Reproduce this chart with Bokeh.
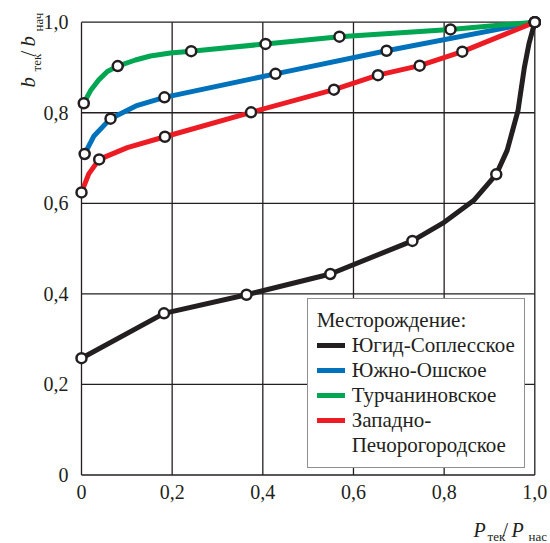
import math
from bokeh.plotting import figure
from bokeh.models import Range1d, FixedTicker, Legend, LegendItem, Label
from bokeh.embed import file_html
from bokeh.resources import INLINE

# ---------------- data ----------------
tick_values = [0.0, 0.2, 0.4, 0.6, 0.8, 1.0]
tick_labels = ["0", "0,2", "0,4", "0,6", "0,8", "1,0"]

legend_title = "Месторождение:"
series_names = ["Югид-Соплесское", "Южно-Ошское", "Турчаниновское", "Западно-Печорогородское"]
series_colors = ["#231f20", "#0072bc", "#00a651", "#ed1c24"]

# measured points (markers)
black_x = [0.0, 0.182, 0.364, 0.549, 0.730, 0.915, 1.0]
black_y = [0.258, 0.357, 0.398, 0.444, 0.517, 0.664, 1.0]
blue_x = [0.007, 0.064, 0.183, 0.428, 0.673, 1.0]
blue_y = [0.709, 0.787, 0.834, 0.886, 0.937, 1.0]
green_x = [0.005, 0.080, 0.242, 0.406, 0.569, 0.814, 1.0]
green_y = [0.821, 0.903, 0.936, 0.952, 0.968, 0.984, 1.0]
red_x = [0.0, 0.039, 0.184, 0.374, 0.557, 0.654, 0.746, 0.840, 1.0]
red_y = [0.624, 0.697, 0.747, 0.801, 0.851, 0.883, 0.904, 0.935, 1.0]

# drawn curves (markers plus points)
black_curve_x = [0.0, 0.182, 0.364, 0.549, 0.730, 0.800, 0.865, 0.915, 0.939, 0.963, 0.977, 0.987, 1.0]
black_curve_y = [0.258, 0.357, 0.398, 0.444, 0.517, 0.558, 0.606, 0.664, 0.717, 0.805, 0.900, 0.952, 1.0]
blue_curve_x = [0.007, 0.027, 0.064, 0.120, 0.183, 0.428, 0.673, 1.0]
blue_curve_y = [0.709, 0.748, 0.787, 0.815, 0.834, 0.886, 0.937, 1.0]
green_curve_x = [0.005, 0.020, 0.0375, 0.057, 0.080, 0.119, 0.152, 0.196, 0.242, 0.406, 0.569, 0.814, 1.0]
green_curve_y = [0.821, 0.849, 0.872, 0.891, 0.903, 0.9165, 0.9254, 0.932, 0.936, 0.952, 0.968, 0.984, 1.0]
red_curve_x = [0.0, 0.016, 0.039, 0.101, 0.184, 0.374, 0.557, 0.654, 0.746, 0.840, 1.0]
red_curve_y = [0.624, 0.665, 0.697, 0.723, 0.747, 0.801, 0.851, 0.883, 0.904, 0.935, 1.0]

curves = [(black_curve_x, black_curve_y), (blue_curve_x, blue_curve_y),
          (green_curve_x, green_curve_y), (red_curve_x, red_curve_y)]
markers = [(black_x, black_y), (blue_x, blue_y), (green_x, green_y), (red_x, red_y)]

INK = "#231f20"
FONT = "Liberation Serif, Times New Roman, serif"

# the frame fills the whole canvas; axes are pinned at x=0 / y=0
p = figure(width=550, height=543,
           x_range=Range1d(-0.17869, 1.03463), y_range=Range1d(-0.15128, 1.04793),
           output_backend="svg", toolbar_location=None,
           min_border_left=0, min_border_right=0, min_border_top=0, min_border_bottom=0)
p.outline_line_color = None
p.xgrid.visible = False
p.ygrid.visible = False
p.background_fill_color = "white"
p.border_fill_color = "white"

for ax, standoff in ((p.xaxis, 10), (p.yaxis, 13)):
    ax.fixed_location = 0.0
    ax.ticker = FixedTicker(ticks=tick_values)
    ax.major_label_overrides = dict(zip(tick_values, tick_labels))
    ax.axis_line_color = None
    ax.major_tick_line_color = None
    ax.minor_tick_line_color = None
    ax.major_tick_out = 0
    ax.major_tick_in = 0
    ax.minor_tick_out = 0
    ax.minor_tick_in = 0
    ax.major_label_text_font = FONT
    ax.major_label_text_font_size = "20px"
    ax.major_label_text_color = INK
    ax.major_label_standoff = standoff

# grid box (drawn from tick values so that it stops at 0 and 1)
n = len(tick_values)
p.segment(x0=tick_values, y0=[tick_values[0]] * n, x1=tick_values, y1=[tick_values[-1]] * n,
          line_color=INK, line_width=1.3)
p.segment(x0=[tick_values[0]] * n, y0=tick_values, x1=[tick_values[-1]] * n, y1=tick_values,
          line_color=INK, line_width=1.3)

line_renderers = []
for (cx, cy), color in zip(curves, series_colors):
    r = p.line(cx, cy, line_color=color, line_width=5, line_join="round", line_cap="round")
    line_renderers.append(r)
for (mx, my) in markers:
    p.scatter(mx, my, marker="circle", size=10, fill_color="white", line_color=INK, line_width=2.5)

# legend: the last name is shown on two lines, second line without a glyph
blank = p.line([], [], line_alpha=0)
first_part, second_part = series_names[3].split("-", 1)
legend_items = [LegendItem(label=name, renderers=[r])
                for name, r in zip(series_names[:3], line_renderers[:3])]
legend_items.append(LegendItem(label=first_part + "-", renderers=[line_renderers[3]]))
legend_items.append(LegendItem(label=second_part, renderers=[blank]))

legend = Legend(
    items=legend_items, location=(306.7, 75.3), title=legend_title,
    title_text_font=FONT, title_text_font_size="21px", title_text_font_style="normal",
    title_text_color=INK, title_standoff=0,
    label_text_font=FONT, label_text_font_size="21px", label_text_color=INK,
    glyph_width=28, glyph_height=22, label_height=22, label_standoff=7,
    spacing=0, padding=9, margin=0,
    border_line_color=INK, border_line_width=1.3,
    background_fill_color="white", background_fill_alpha=1.0)
p.add_layout(legend, "center")

def add_text(x, y, text, size, italic=False, angle=0.0):
    p.add_layout(Label(x=x, y=y, text=text, angle=angle, text_font=FONT,
                       text_font_size=size, text_font_style="italic" if italic else "normal",
                       text_color=INK, text_align="left", text_baseline="alphabetic"))

# y-axis title: b_тек / b_нач (rotated)
rot = math.pi / 2
add_text(-0.1191, 0.8558, "b", "21px", True, rot)
add_text(-0.0993, 0.8911, "тек", "13px", False, rot)
add_text(-0.1191, 0.9242, "/", "21px", False, rot)
add_text(-0.1191, 0.9463, "b", "21px", True, rot)
add_text(-0.0949, 0.9795, "нач", "13px", False, rot)

# x-axis title: P_тек / P_нас
add_text(0.8648, -0.1215, "P", "20px", True)
add_text(0.8957, -0.1358, "тек", "13px", False)
add_text(0.9287, -0.1215, "/", "20px", False)
add_text(0.9486, -0.1215, "P", "20px", True)
add_text(0.9861, -0.1358, "нас", "13px", False)

open("out.html", "w").write(file_html(p, INLINE))
